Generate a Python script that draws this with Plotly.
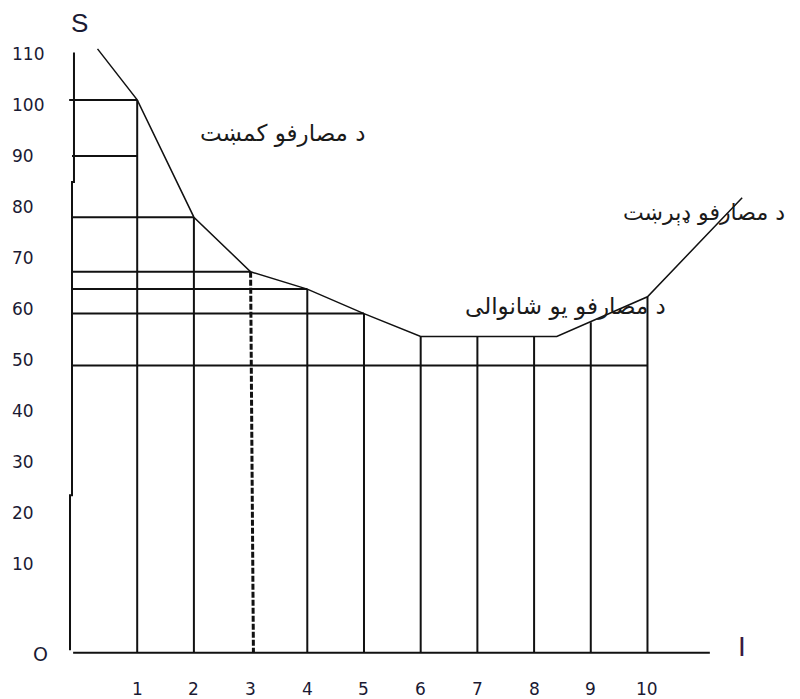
import plotly.graph_objects as go

# ---- data ----
x_ticks = [1, 2, 3, 4, 5, 6, 7, 8, 9, 10]
x_tick_labels = ["1", "2", "3", "4", "5", "6", "7", "8", "9", "10"]
y_ticks = [10, 20, 30, 40, 50, 60, 70, 80, 90, 100, 110]
y_tick_labels = ["10", "20", "30", "40", "50", "60", "70", "80", "90", "100", "110"]
origin_label = "O"

# cost curve (S against I)
curve_x = [0.30, 1, 2, 3, 4, 5, 6, 8.4, 10, 11.67]
curve_y = [111, 101, 78, 67.3, 63.9, 59.1, 54.6, 54.6, 62.4, 81.8]

# horizontal reading lines: level and the x where each ends
level_y = [101, 90, 78, 67.3, 63.9, 59.1, 48.9]
level_end_x = [1, 1, 2, 3, 4, 5, 10]

# vertical reading lines: x and the height they reach
vert_x = [1, 2, 4, 5, 6, 7, 8, 9, 10]
vert_top = [101, 78, 63.9, 59.1, 54.6, 54.6, 54.6, 57.4, 62.4]

# dashed optimum line
opt_x = 3
opt_top = 67.3

# hand drawn axes
axis_base = -7.4
y_axis_x = [-0.115, -0.115, -0.15, -0.15, -0.185, -0.185]
y_axis_y = [110.3, 84.9, 84.9, 23.5, 23.5, -6.9]
x_axis_x = [-0.13, 11.1]

labels_text = ["د مصارفو کمښت", "د مصارفو ډېرښت", "د مصارفو یو شانوالی"]
labels_x = [5.05, 12.46, 10.36]
labels_y = [94.5, 78.8, 60.4]
labels_size = [23, 22, 23]

# ---- figure ----
INK = "#111111"
fig = go.Figure()

left_x = -0.15
hx, hy = [], []
for lv, ex in zip(level_y, level_end_x):
    start = -0.2 if lv > 100 else left_x
    hx += [start, ex, None]
    hy += [lv, lv, None]
fig.add_trace(go.Scatter(x=hx, y=hy, mode="lines",
                         line=dict(color=INK, width=2), hoverinfo="skip"))

vx, vy = [], []
for xv, top in zip(vert_x, vert_top):
    vx += [xv, xv, None]
    vy += [axis_base, top, None]
fig.add_trace(go.Scatter(x=vx, y=vy, mode="lines",
                         line=dict(color=INK, width=2), hoverinfo="skip"))

fig.add_trace(go.Scatter(x=[opt_x, opt_x + 0.05], y=[opt_top, axis_base], mode="lines",
                         line=dict(color=INK, width=3, dash="6px,2px"), hoverinfo="skip"))

fig.add_trace(go.Scatter(x=curve_x, y=curve_y, mode="lines",
                         line=dict(color=INK, width=1.5), hoverinfo="skip"))

fig.add_trace(go.Scatter(x=y_axis_x, y=y_axis_y, mode="lines",
                         line=dict(color=INK, width=2), hoverinfo="skip"))
fig.add_trace(go.Scatter(x=x_axis_x, y=[axis_base, axis_base], mode="lines",
                         line=dict(color=INK, width=2), hoverinfo="skip"))

annotations = []
tick_font = dict(family="DejaVu Sans", size=17, color="#1a1a33")
for v, t in zip(y_ticks, y_tick_labels):
    annotations.append(dict(x=-1.243, y=v, text=t, xanchor="left", yanchor="middle",
                            showarrow=False, font=tick_font))
for v, t in zip(x_ticks, x_tick_labels):
    annotations.append(dict(x=v, y=-14.5, text=t, xanchor="center", yanchor="middle",
                            showarrow=False, font=tick_font))
annotations.append(dict(x=-0.714, y=-7.65, text=origin_label, showarrow=False,
                        xanchor="center", yanchor="middle",
                        font=dict(family="DejaVu Sans", size=19, color="#1a1a33")))
annotations.append(dict(x=-0.026, y=116.1, text="S", showarrow=False,
                        xanchor="center", yanchor="middle",
                        font=dict(family="Liberation Sans", size=26, color="#1a1a33")))
annotations.append(dict(x=11.67, y=-6.1, text="I", showarrow=False,
                        xanchor="center", yanchor="middle",
                        font=dict(family="Liberation Sans", size=28, color="#3a1a40")))
for t, lx, ly, fs in zip(labels_text, labels_x, labels_y, labels_size):
    annotations.append(dict(x=lx, y=ly, text=t, showarrow=False,
                            xanchor="right", yanchor="middle",
                            font=dict(family="DejaVu Sans", size=fs, color="#1a1a1a")))

# the page adds an 8px body margin; the figure fills the rest of the window
fig.update_layout(
    width=792, height=691,
    margin=dict(l=0, r=0, t=0, b=0),
    paper_bgcolor="white", plot_bgcolor="white",
    showlegend=False,
    xaxis=dict(range=[-1.2787, 12.690], visible=False, fixedrange=True),
    yaxis=dict(range=[-16.47, 119.02], visible=False, fixedrange=True),
    annotations=annotations,
)

fig.write_html("out.html", config={"displayModeBar": False})
